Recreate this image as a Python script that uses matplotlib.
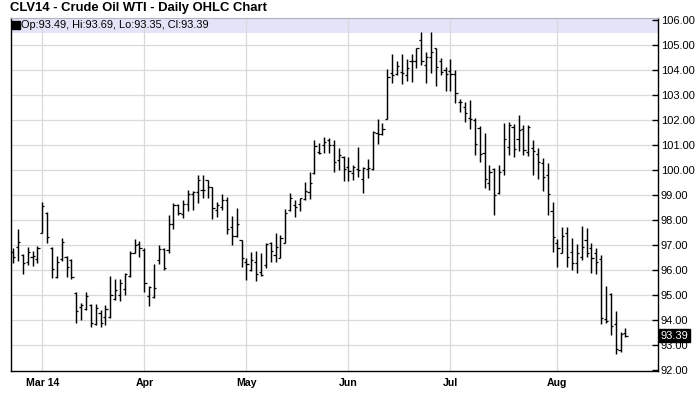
import matplotlib
matplotlib.use("Agg")
import matplotlib.pyplot as plt
import matplotlib.transforms as mtransforms
from matplotlib.patches import Rectangle
import pandas as pd

plt.rcParams['font.family'] = ['Liberation Sans', 'DejaVu Sans']

# trading days Feb 21 - Aug 21 2014 (NYMEX holidays removed)
holidays = ['2014-04-18', '2014-05-26', '2014-07-04']
dates = pd.bdate_range('2014-02-21', '2014-08-21')
dates = dates[~dates.isin(pd.to_datetime(holidays))]

opens = [96.75, 96.92, 96.63, 96.35, 96.52, 96.46,
         97.48, 98.30, 96.90, 95.72, 96.45, 96.55, 96.43, 95.10, 94.55, 94.45,
         94.63, 93.85, 94.28, 94.12, 94.15, 94.86, 95.00, 95.26, 95.76, 96.70, 97.05,
         96.80, 94.98, 94.95, 96.40, 96.85, 96.80, 97.87, 98.60, 98.27, 98.67,
         99.07, 99.14, 99.20, 99.60, 99.35, 98.40, 98.54, 98.80, 97.74, 97.38, 97.20,
         96.35, 96.00, 96.35, 95.95, 96.20, 97.10, 96.60, 96.50, 97.10, 98.40,
         98.60, 98.65, 98.87, 99.15, 99.90, 100.75, 101.00, 101.20, 101.00, 100.40, 100.55,
         100.15, 99.88, 100.05, 99.64, 100.05, 100.05, 101.50, 101.45, 102.05, 103.90,
         103.85, 103.92, 103.81, 104.37, 104.37, 105.20, 104.20, 104.55, 104.90, 104.37, 104.00,
         103.98, 103.85, 102.75, 102.52, 102.11, 102.00, 101.70, 100.70, 99.50, 100.04,
         99.10, 100.00, 100.92, 101.75, 101.24, 101.64, 100.75, 100.88, 100.64, 100.28,
         99.81, 98.37,
         97.10, 96.71, 97.48, 96.75, 96.30, 96.55, 97.21, 96.90, 96.68, 96.44,
         94.05, 95.05, 93.85, 92.80, 93.49]
highs = [96.88, 97.65, 96.65, 96.92, 96.77, 96.96,
         98.72, 98.32, 96.92, 96.56, 97.28, 96.57, 96.45, 95.13, 94.70, 95.12,
         94.64, 94.65, 94.41, 94.60, 95.77, 95.65, 95.65, 95.88, 96.78, 97.26, 97.18,
         96.91, 95.37, 96.24, 97.02, 96.88, 98.23, 98.71, 98.67, 98.83, 99.23,
         99.19, 99.80, 99.80, 99.63, 99.35, 98.72, 99.06, 98.94, 98.16, 98.50, 97.21,
         96.48, 96.75, 96.77, 96.69, 97.08, 97.15, 97.48, 97.41, 98.45, 99.08,
         98.81, 98.91, 99.52, 99.94, 101.21, 101.08, 101.35, 101.28, 101.21, 100.88, 100.57,
         100.55, 100.21, 100.92, 100.15, 100.44, 101.57, 102.05, 101.90, 104.04, 104.64,
         104.37, 104.64, 104.44, 104.64, 104.91, 105.55, 104.72, 105.52, 104.91, 104.48, 104.12,
         104.44, 104.00, 102.84, 102.75, 102.81, 102.08, 101.77, 101.50, 100.21, 100.08,
         100.21, 101.91, 101.95, 101.85, 102.21, 101.81, 101.81, 101.21, 100.88, 100.51,
         100.31, 98.73,
         97.24, 97.72, 97.72, 97.28, 97.05, 97.77, 97.68, 97.11, 96.88, 96.60,
         95.37, 95.11, 94.37, 93.55, 93.69]
lows = [96.30, 96.38, 95.84, 96.20, 96.19, 96.29,
        97.48, 97.08, 95.70, 95.70, 96.37, 95.74, 95.66, 93.90, 94.01, 94.41,
        93.73, 93.80, 93.72, 93.82, 94.09, 94.80, 94.79, 95.01, 95.74, 96.68, 96.52,
        95.15, 94.58, 94.91, 96.25, 96.01, 96.68, 97.67, 98.20, 98.10, 98.38,
        98.40, 98.71, 98.90, 98.90, 98.06, 98.14, 98.43, 97.47, 97.01, 97.34, 96.14,
        95.61, 95.98, 95.57, 95.77, 96.08, 96.35, 96.32, 96.48, 97.08, 98.39,
        98.15, 98.39, 98.81, 98.84, 99.84, 100.64, 100.71, 100.71, 99.94, 100.01, 99.57,
        99.57, 99.61, 99.75, 99.11, 99.71, 100.01, 101.04, 101.40, 102.04, 103.48,
        103.81, 103.44, 103.57, 103.55, 104.08, 104.20, 103.48, 103.88, 103.39, 103.81, 103.19,
        103.19, 102.68, 102.35, 101.95, 101.65, 100.61, 100.35, 99.28, 99.20, 98.21,
        99.05, 99.81, 100.61, 100.52, 100.79, 100.61, 100.57, 99.81, 99.64, 99.19,
        98.21, 96.75,
        96.15, 96.68, 96.15, 96.01, 95.88, 96.41, 96.55, 95.91, 95.85, 93.85,
        93.90, 93.41, 92.65, 92.74, 93.35]
closes = [96.52, 97.13, 96.28, 96.73, 96.57, 96.89,
          98.57, 97.32, 96.04, 96.33, 97.13, 96.12, 95.72, 94.37, 94.62, 94.98,
          93.90, 94.50, 93.88, 94.46, 95.00, 95.21, 95.50, 95.85, 96.70, 97.00, 96.90,
          95.48, 95.34, 95.30, 96.85, 96.10, 97.85, 98.63, 98.30, 98.67, 99.07,
          99.14, 99.60, 99.23, 99.34, 98.51, 98.60, 98.83, 97.64, 97.38, 97.84, 96.48,
          96.24, 96.40, 95.87, 95.80, 97.05, 96.77, 96.92, 97.28, 98.28, 98.91,
          98.55, 98.90, 99.18, 99.48, 100.99, 100.70, 101.15, 101.00, 100.35, 100.62, 100.05,
          99.97, 100.12, 100.00, 100.08, 100.10, 101.52, 101.44, 101.65, 103.75, 103.80,
          104.17, 103.90, 104.11, 104.37, 104.90, 104.37, 104.55, 104.72, 104.15, 103.95, 103.85,
          103.85, 103.08, 102.72, 102.28, 102.04, 101.04, 100.64, 99.65, 99.92, 99.01,
          99.92, 101.24, 101.81, 100.84, 101.61, 100.81, 101.75, 100.79, 100.35, 99.75,
          99.04, 97.32,
          96.90, 97.37, 96.55, 96.28, 96.68, 96.95, 96.68, 96.50, 96.35, 94.08,
          93.98, 93.77, 92.84, 93.45, 93.39]

yticks = [92, 93, 94, 95, 96, 97, 98, 99, 100, 101, 102, 103, 104, 105, 106]

x = list(range(len(dates)))

# first trading day of each month (skip the partial February)
tick_pos, tick_lab = [], []
for i, d in enumerate(dates):
    if i > 0 and d.month != dates[i - 1].month:
        tick_pos.append(i)
        tick_lab.append(d.strftime('%b %y') if not tick_pos[:-1] else d.strftime('%b'))

fig = plt.figure(figsize=(7, 4.11), dpi=100)
ax = fig.add_axes([10.7 / 700, 40.5 / 411, 647.3 / 700, 352.7 / 411])

ax.set_xlim(-0.5, 132.7)
ax.set_ylim(91.99, 106.1)

# grid
for p in tick_pos:
    ax.axvline(p, color='#d9d9d9', lw=0.9, zorder=1)
for v in yticks[1:-1]:
    ax.axhline(v, color='#d9d9d9', lw=0.9, zorder=1)

# OHLC bars
tk = 0.45
ax.vlines(x, lows, highs, color='black', lw=1.05, zorder=3)
ax.hlines(opens, [i - tk for i in x], x, color='black', lw=0.9, zorder=3)
ax.hlines(closes, x, [i + tk for i in x], color='black', lw=0.9, zorder=3)

# info band at top
band_h = 14.7 / 352.7
ax.add_patch(Rectangle((0, 1 - band_h), 1, band_h, transform=ax.transAxes,
                       facecolor='#e4e4f8', edgecolor='none', zorder=0.5))
ax.plot([0.0076], [1 - band_h / 2], marker='s', ms=5.2, color='black',
        transform=ax.transAxes, zorder=4, clip_on=False)
ax.text(0.0160, 1 - band_h / 2,
        'Op:%.2f, Hi:%.2f, Lo:%.2f, Cl:%.2f' % (opens[-1], highs[-1], lows[-1], closes[-1]),
        transform=ax.transAxes, ha='left', va='center', fontsize=7.9, zorder=4)

# axes styling
for s in ['left', 'right', 'bottom']:
    ax.spines[s].set_color('black')
    ax.spines[s].set_linewidth(1.0)
ax.spines['top'].set_color('#b0b0c0')
ax.spines['top'].set_linewidth(0.8)

ax.yaxis.tick_right()
ax.set_yticks(yticks)
ax.set_yticklabels(['%.2f' % v for v in yticks])
ax.tick_params(axis='y', direction='in', length=4, width=1, labelsize=8, pad=2,
               colors='black')
ax.set_xticks(tick_pos)
ax.set_xticklabels(tick_lab, fontweight='bold')
ax.tick_params(axis='x', length=0, labelsize=7.6, pad=5.5)

# last price label
trans = mtransforms.blended_transform_factory(ax.transAxes, ax.transData)
ax.text(1.004, closes[-1], '%.2f' % closes[-1], transform=trans, ha='left', va='center',
        fontsize=8, color='white',
        bbox=dict(boxstyle='square,pad=0.12', facecolor='black', edgecolor='black'))

fig.text(10 / 700, 1 - 8.5 / 411, 'CLV14 - Crude Oil WTI - Daily OHLC Chart',
         ha='left', va='center', fontsize=9.4, fontweight='bold')

fig.savefig('out.png', dpi=100)
